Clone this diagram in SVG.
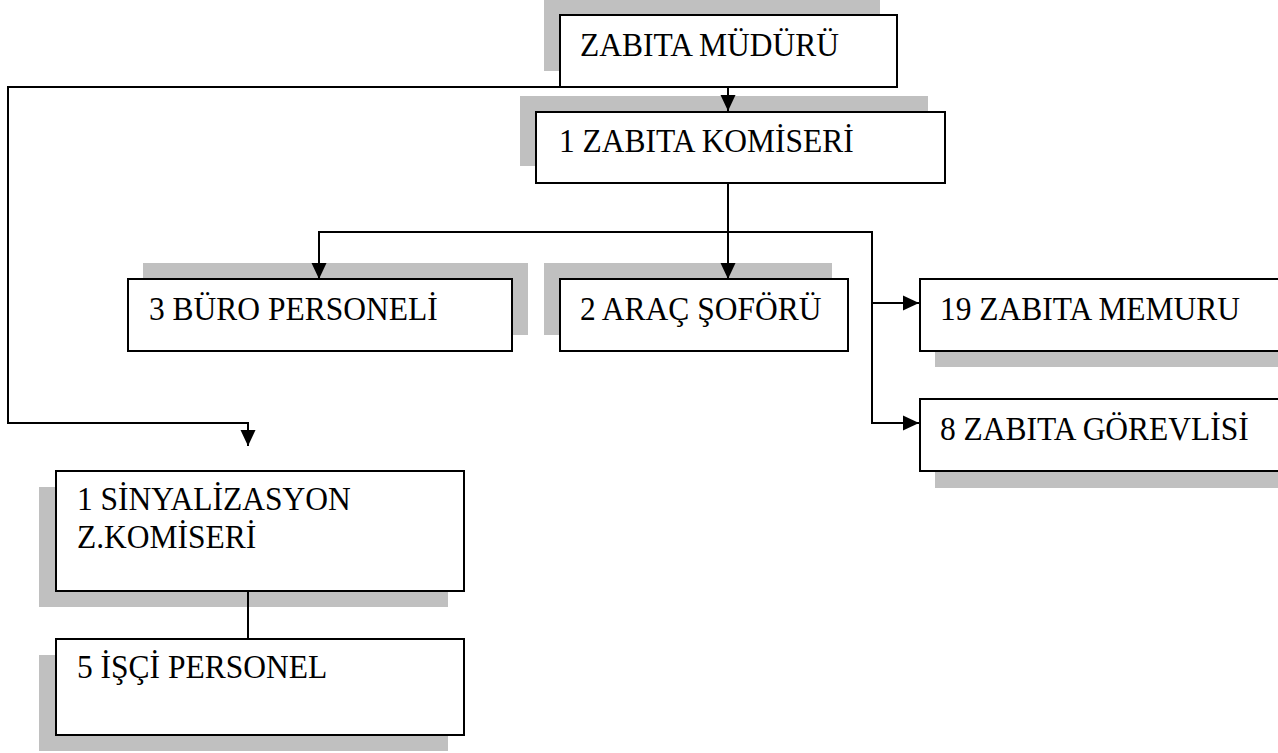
<svg xmlns="http://www.w3.org/2000/svg" width="1278" height="753" viewBox="0 0 1278 753">
<style>
.sh{fill:#c0c0c0;stroke:none}
.bx{fill:#ffffff;stroke:#000000;stroke-width:2}
.t{font-family:'Liberation Serif','DejaVu Serif',serif;font-size:31.5px;fill:#000000}
.ln{fill:none;stroke:#000000;stroke-width:2}
</style>
<defs>
<marker id="ah" viewBox="0 0 16 16" markerUnits="strokeWidth" markerWidth="8" markerHeight="8" refX="16" refY="8" orient="auto">
<path d="M0,0.5 L16,8 L0,15.5 z" fill="#000000"/>
</marker>
</defs>
<rect width="1278" height="753" fill="#ffffff"/>
<g id="mudur">
<rect class="sh" x="544" y="-2" width="336" height="73"/>
<rect class="bx" x="560" y="15" width="337" height="72"/>
<text class="t" transform="translate(580,56) scale(1,1.08)">ZABITA MÜDÜRÜ</text>
</g>
<g id="komiser">
<rect class="sh" x="520" y="96" width="408" height="70"/>
<rect class="bx" x="536" y="112" width="409" height="71"/>
<text class="t" transform="translate(559,152) scale(1,1.08)">1 ZABITA KOMİSERİ</text>
</g>
<g id="buro">
<rect class="sh" x="143" y="263" width="385" height="72"/>
<rect class="bx" x="128" y="279" width="384" height="72"/>
<text class="t" transform="translate(149,320) scale(1,1.08)">3 BÜRO PERSONELİ</text>
</g>
<g id="sofor">
<rect class="sh" x="544" y="263" width="288" height="72"/>
<rect class="bx" x="560" y="279" width="288" height="72"/>
<text class="t" transform="translate(580,320) scale(1,1.08)">2 ARAÇ ŞOFÖRÜ</text>
</g>
<g id="memur">
<rect class="sh" x="935" y="295" width="360" height="72"/>
<rect class="bx" x="920" y="279" width="380" height="72"/>
<text class="t" transform="translate(940,320) scale(1,1.08)">19 ZABITA MEMURU</text>
</g>
<g id="gorevli">
<rect class="sh" x="935" y="415" width="360" height="73"/>
<rect class="bx" x="920" y="399" width="380" height="72"/>
<text class="t" transform="translate(940,440) scale(1,1.08)">8 ZABITA GÖREVLİSİ</text>
</g>
<g id="sinyalizasyon">
<rect class="sh" x="39" y="487" width="409" height="120"/>
<rect class="bx" x="56" y="471" width="408" height="120"/>
<text class="t" transform="translate(77,510) scale(1,1.08)">1 SİNYALİZASYON</text>
<text class="t" transform="translate(77,548) scale(1,1.08)">Z.KOMİSERİ</text>
</g>
<g id="isci">
<rect class="sh" x="39" y="655" width="409" height="96"/>
<rect class="bx" x="56" y="639" width="408" height="96"/>
<text class="t" transform="translate(77,678) scale(1,1.08)">5 İŞÇİ PERSONEL</text>
</g>
<g id="connectors">
<path class="ln" d="M728,87 V111" marker-end="url(#ah)"/>
<path class="ln" d="M560,87 H8 V423 H248 V446" marker-end="url(#ah)"/>
<path class="ln" d="M728,183 V279" marker-end="url(#ah)"/>
<path class="ln" d="M728,232 H319 V279" marker-end="url(#ah)"/>
<path class="ln" d="M728,232 H872 V423 H919" marker-end="url(#ah)"/>
<path class="ln" d="M872,303 H919" marker-end="url(#ah)"/>
<path class="ln" d="M248,591 V639"/>
</g>
</svg>
